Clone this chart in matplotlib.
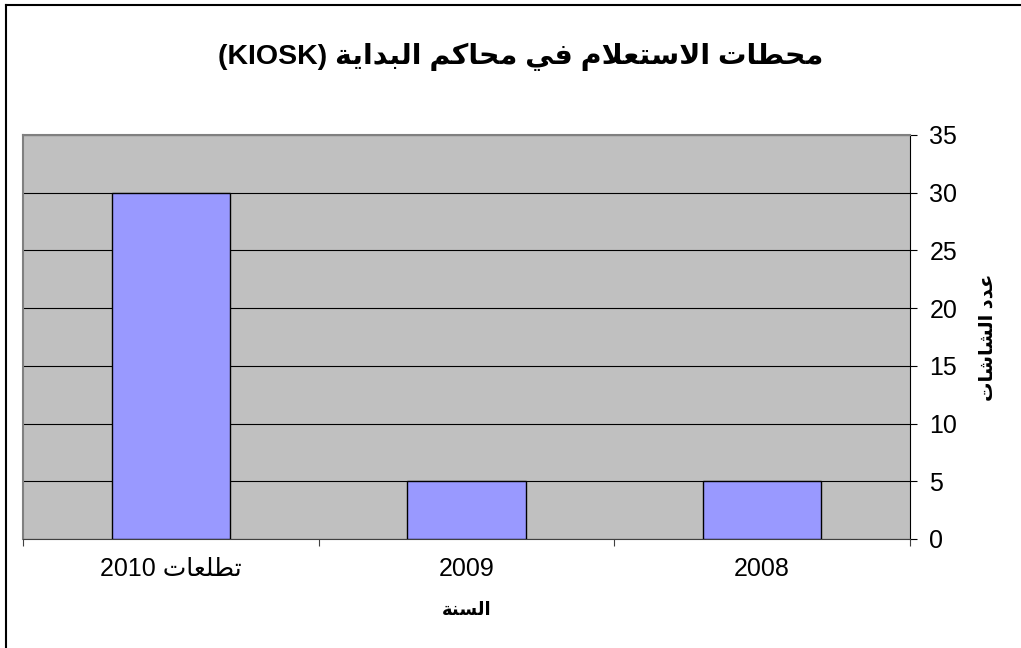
import matplotlib
matplotlib.use("Agg")
import matplotlib.pyplot as plt
from matplotlib.lines import Line2D

# data
categories = ['2008', '2009', 'تطلعات 2010']
values = [5, 5, 30]
title = 'محطات الاستعلام في محاكم البداية (KIOSK)'
xlabel = 'السنة'
ylabel = 'عدد الشاشات'
yticks = [0, 5, 10, 15, 20, 25, 30, 35]

# small arabic shaper (matplotlib does not shape arabic)
FORMS = {
    'ا': ('\uFE8D', '\uFE8E', None, None),
    'ب': ('\uFE8F', '\uFE90', '\uFE91', '\uFE92'),
    'ة': ('\uFE93', '\uFE94', None, None),
    'ت': ('\uFE95', '\uFE96', '\uFE97', '\uFE98'),
    'ح': ('\uFEA1', '\uFEA2', '\uFEA3', '\uFEA4'),
    'د': ('\uFEA9', '\uFEAA', None, None),
    'س': ('\uFEB1', '\uFEB2', '\uFEB3', '\uFEB4'),
    'ش': ('\uFEB5', '\uFEB6', '\uFEB7', '\uFEB8'),
    'ط': ('\uFEC1', '\uFEC2', '\uFEC3', '\uFEC4'),
    'ع': ('\uFEC9', '\uFECA', '\uFECB', '\uFECC'),
    'ف': ('\uFED1', '\uFED2', '\uFED3', '\uFED4'),
    'ك': ('\uFED9', '\uFEDA', '\uFEDB', '\uFEDC'),
    'ل': ('\uFEDD', '\uFEDE', '\uFEDF', '\uFEE0'),
    'م': ('\uFEE1', '\uFEE2', '\uFEE3', '\uFEE4'),
    'ن': ('\uFEE5', '\uFEE6', '\uFEE7', '\uFEE8'),
    'ي': ('\uFEF1', '\uFEF2', '\uFEF3', '\uFEF4'),
}


def shape_word(w):
    out = []
    i = 0
    prev_joins = False
    while i < len(w):
        c = w[i]
        if c not in FORMS:
            out.append(c)
            prev_joins = False
            i += 1
            continue
        if c == 'ل' and i + 1 < len(w) and w[i + 1] == 'ا':
            out.append('\uFEFC' if prev_joins else '\uFEFB')
            prev_joins = False
            i += 2
            continue
        f = FORMS[c]
        nxt = w[i + 1] if i + 1 < len(w) else None
        can_next = f[2] is not None and nxt in FORMS
        if prev_joins and can_next:
            g = f[3]
        elif prev_joins:
            g = f[1]
        elif can_next:
            g = f[2]
        else:
            g = f[0]
        out.append(g)
        prev_joins = f[2] is not None
        i += 1
    return ''.join(reversed(out))


def ar(text):
    words = text.split(' ')
    res = [shape_word(w) if any(ch in FORMS for ch in w) else w for w in words]
    return ' '.join(reversed(res))


fonts = ['Liberation Sans', 'DejaVu Sans']
plt.rcParams['font.family'] = fonts

fig = plt.figure(figsize=(10.21, 6.48), dpi=100)
ax = fig.add_axes([23 / 1021, 109 / 648, 887 / 1021, 404 / 648])
ax.set_facecolor('#C0C0C0')

x = list(range(len(categories)))
ax.bar(x, values, width=0.4, color='#9999FF', edgecolor='black', linewidth=1, zorder=3)

ax.set_xlim(-0.5, len(categories) - 0.5)
ax.invert_xaxis()
ax.set_ylim(0, 35)
ax.set_yticks(yticks)
ax.yaxis.tick_right()
ax.yaxis.set_label_position('right')
ax.grid(axis='y', color='black', linewidth=0.8, zorder=1)

ax.set_xticks([i - 0.5 for i in range(len(categories) + 1)])
ax.set_xticklabels([])
ax.set_xticks(x, minor=True)
ax.set_xticklabels([ar(c) for c in categories], minor=True, fontsize=18)
ax.tick_params(axis='x', which='minor', length=0, pad=13)
ax.tick_params(axis='x', which='major', length=5, direction='out', color='#404040')
ax.tick_params(axis='y', labelsize=18, length=5, direction='out', pad=9)

for s in ['top', 'left']:
    ax.spines[s].set_color('#808080')
    ax.spines[s].set_linewidth(1.5)
ax.spines['bottom'].set_color('#404040')

ax.set_xlabel(ar(xlabel), fontsize=13, fontweight='bold', labelpad=15)
ax.set_ylabel(ar(ylabel), fontsize=14, fontweight='bold', rotation=90, labelpad=16)

fig.text(0.51, 0.912, ar(title), ha='center', va='center', fontsize=20.5, fontweight='bold')

# chart area border (only left and top edges fall inside the picture)
fig.add_artist(Line2D([6 / 1021, 6 / 1021], [0, 643 / 648], transform=fig.transFigure,
                      color='black', linewidth=1.5))
fig.add_artist(Line2D([6 / 1021, 1], [643 / 648, 643 / 648], transform=fig.transFigure,
                      color='black', linewidth=1.5))

fig.savefig('out.png', dpi=100)
